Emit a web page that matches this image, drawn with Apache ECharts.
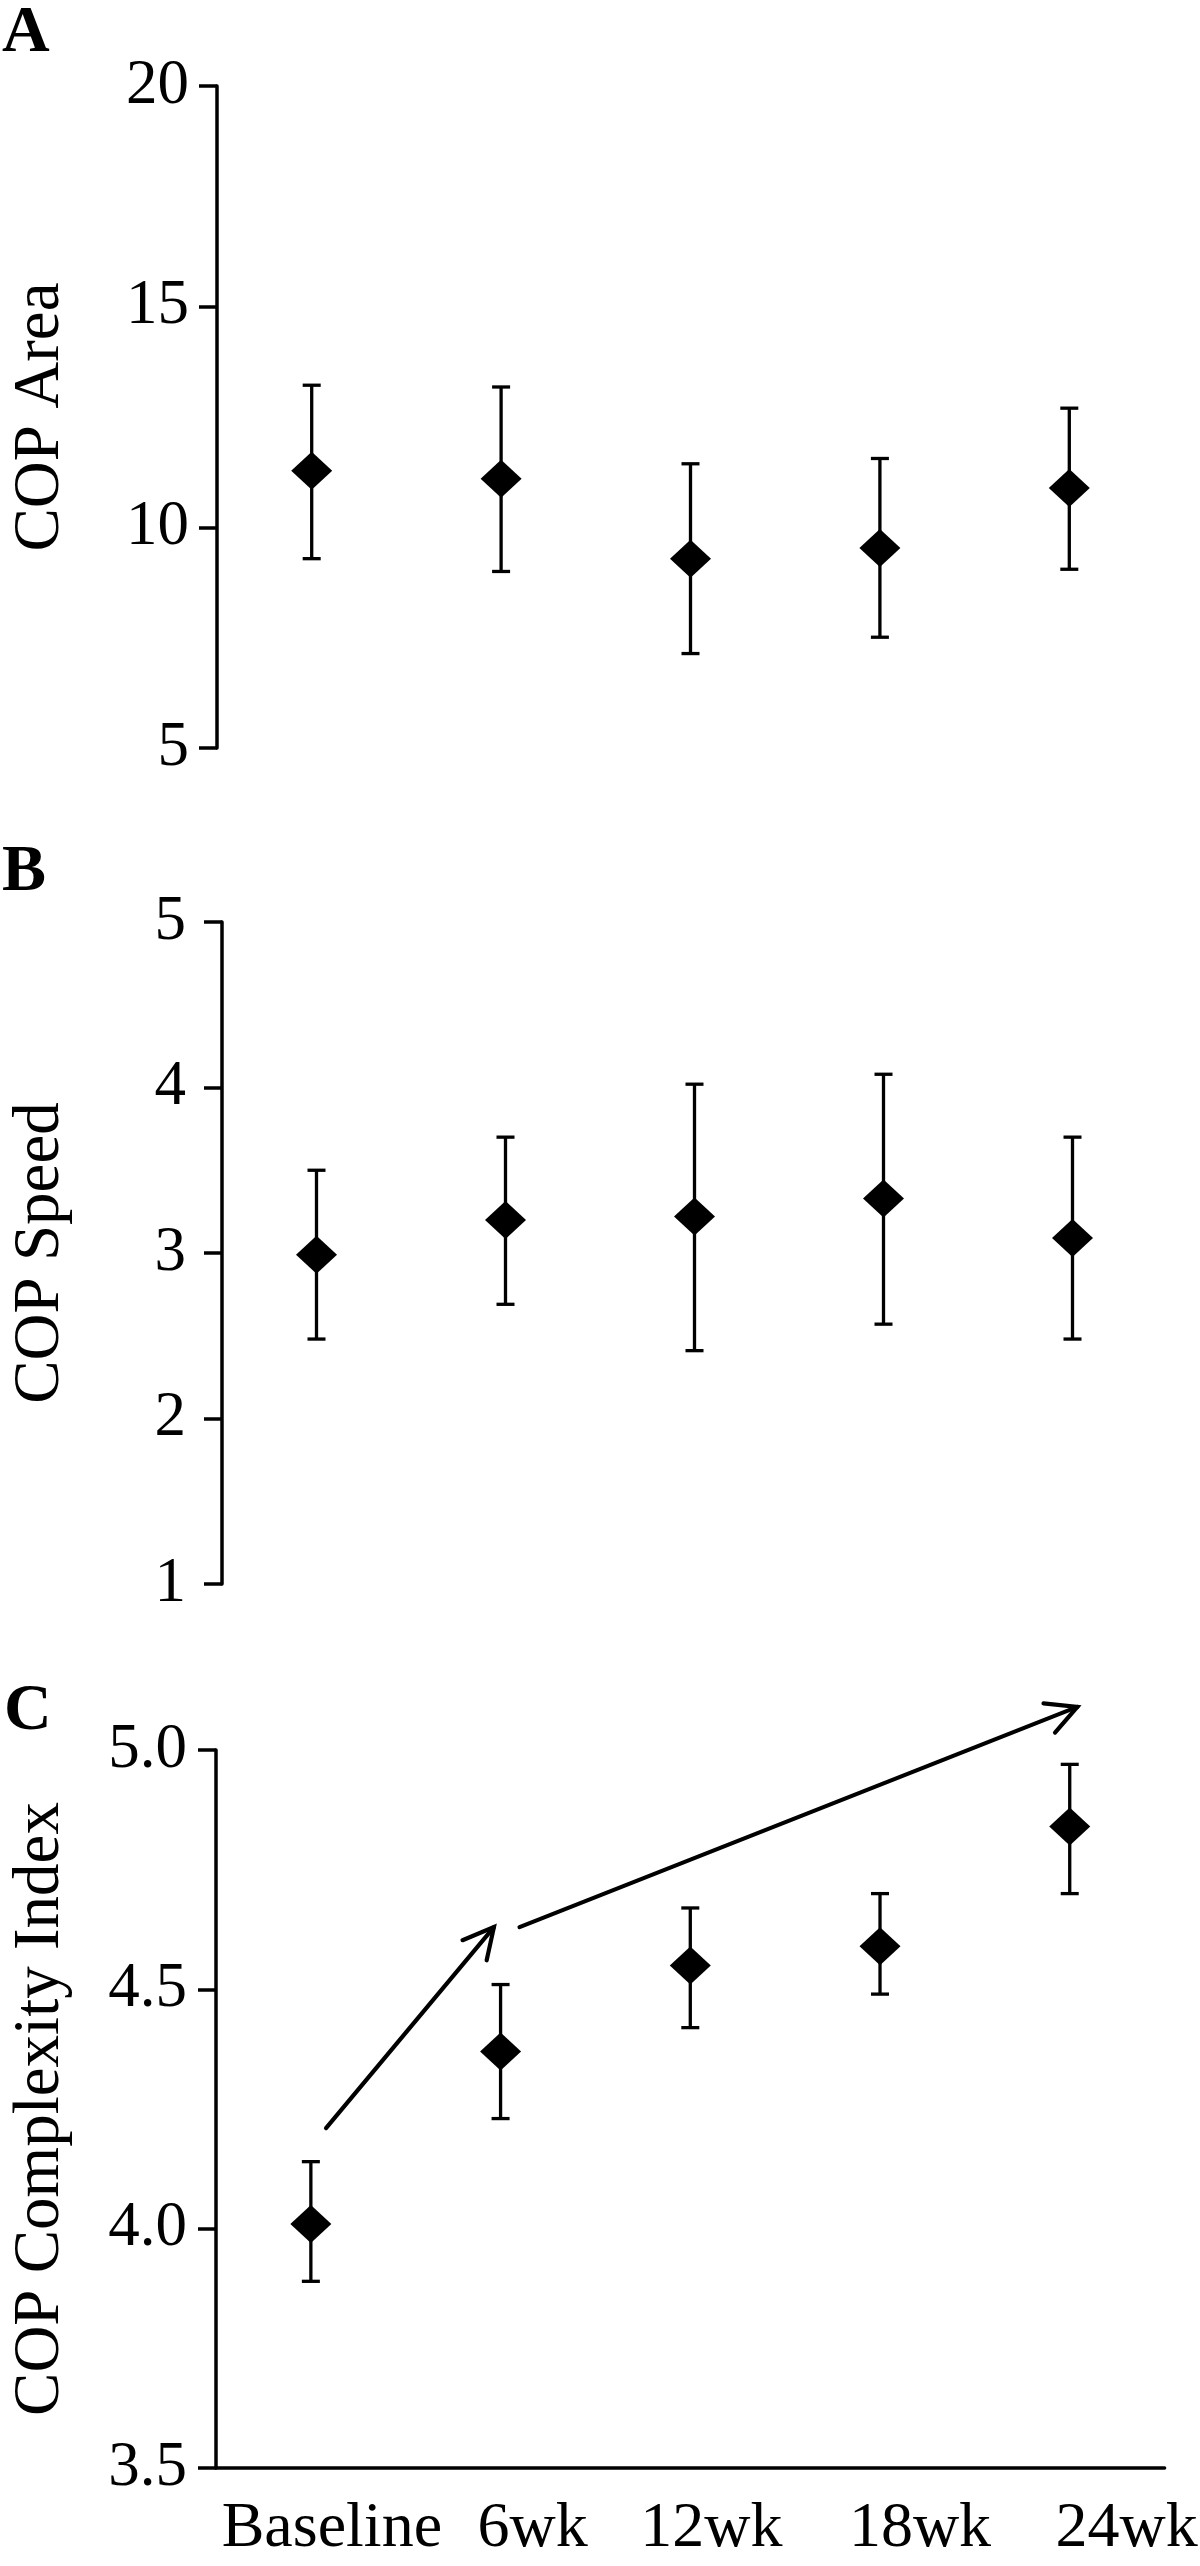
<!DOCTYPE html>
<html><head><meta charset="utf-8">
<script src="https://cdn.jsdelivr.net/npm/echarts@6/dist/echarts.min.js"></script>
<style>html,body{margin:0;padding:0;background:#fff}#chart{width:1200px;height:2566px}</style>
</head><body><div id="chart"></div>
<script>
// ---- data ----
const categories = ['Baseline', '6wk', '12wk', '18wk', '24wk'];

const areaMean = [11.28, 11.10, 9.29, 9.53, 10.89];
const areaLow  = [9.29, 9.00, 7.14, 7.51, 9.05];
const areaHigh = [13.22, 13.18, 11.44, 11.56, 12.70];

const speedMean = [2.99, 3.20, 3.22, 3.33, 3.09];
const speedLow  = [2.48, 2.69, 2.41, 2.57, 2.48];
const speedHigh = [3.50, 3.70, 4.02, 4.08, 3.70];

const complexMean = [4.01, 4.37, 4.55, 4.59, 4.84];
const complexLow  = [3.89, 4.23, 4.42, 4.49, 4.70];
const complexHigh = [4.14, 4.51, 4.67, 4.70, 4.97];

// trend arrows in panel C: [xStart, yStart, xEnd, yEnd] (x in category-index units)
const trendArrows = [[0.08, 4.21, 0.965, 4.63], [1.10, 4.63, 4.04, 5.09]];

const areaTicks = [5, 10, 15, 20];
const speedTicks = [1, 2, 3, 4, 5];
const complexTicks = [3.5, 4.0, 4.5, 5.0];

const panelLetters = ['A', 'B', 'C'];
const yNames = ['COP Area', 'COP Speed', 'COP Complexity Index'];

// ---- chart ----
const FONT = '"Liberation Serif", "Times New Roman", serif';
const chart = echarts.init(document.getElementById('chart'));

function errData(lo, hi) { return lo.map((v, i) => [i, v, hi[i]]); }
function ptData(m) { return m.map((v, i) => [i, v]); }

function errRender(params, api) {
  const x = api.value(0), lo = api.value(1), hi = api.value(2);
  const pLo = api.coord([x, lo]), pHi = api.coord([x, hi]);
  const w = 9;
  const st = { stroke: '#000', lineWidth: 3.3 };
  return { type: 'group', children: [
    { type: 'line', shape: { x1: pLo[0], y1: pLo[1], x2: pHi[0], y2: pHi[1] }, style: st },
    { type: 'line', shape: { x1: pLo[0] - w, y1: pLo[1], x2: pLo[0] + w, y2: pLo[1] }, style: st },
    { type: 'line', shape: { x1: pHi[0] - w, y1: pHi[1], x2: pHi[0] + w, y2: pHi[1] }, style: st }
  ]};
}

function arrowRender(params, api) {
  const p1 = api.coord([api.value(0), api.value(1)]);
  const p2 = api.coord([api.value(2), api.value(3)]);
  const ang = Math.atan2(p2[1] - p1[1], p2[0] - p1[0]);
  const L = 34, a = 27.5 * Math.PI / 180;
  const h1 = [p2[0] - L * Math.cos(ang - a), p2[1] - L * Math.sin(ang - a)];
  const h2 = [p2[0] - L * Math.cos(ang + a), p2[1] - L * Math.sin(ang + a)];
  const st = { stroke: '#000', lineWidth: 4.2, fill: null, lineCap: 'round', lineJoin: 'miter' };
  return { type: 'group', children: [
    { type: 'line', shape: { x1: p1[0], y1: p1[1], x2: p2[0], y2: p2[1] }, style: st },
    { type: 'polyline', shape: { points: [h1, p2, h2] }, style: st }
  ]};
}

function yAxis(gridIndex, ticks, name, gap, margin, fmt) {
  return {
    type: 'value', gridIndex,
    min: ticks[0], max: ticks[ticks.length - 1], interval: ticks[1] - ticks[0],
    name, nameLocation: 'middle', nameGap: gap,
    nameTextStyle: { fontFamily: FONT, fontSize: 65, color: '#000' },
    axisLine: { show: true, onZero: false, lineStyle: { color: '#000', width: 3.5 } },
    axisTick: { show: true, length: 18, lineStyle: { color: '#000', width: 3.5 } },
    axisLabel: { fontFamily: FONT, fontSize: 63, color: '#000', margin, formatter: fmt },
    splitLine: { show: false }
  };
}

const labelShift = [21, 32, 21, 40, 57];
const richStyles = {};
labelShift.forEach((s, i) => {
  richStyles['l' + i] = { fontFamily: FONT, fontSize: 64, color: '#000', padding: [0, 0, 0, 2 * s] };
});

const option = {
  animation: false,
  backgroundColor: '#fff',
  graphic: panelLetters.map((t, i) => ({
    type: 'text', x: [2, 2, 4][i], y: [34, 873, 1712][i],
    style: { text: t, font: 'bold 66px ' + FONT, fill: '#000', verticalAlign: 'middle', align: 'left' }
  })),
  grid: [
    { left: 210, right: 36, top: 86, height: 662 },
    { left: 216, right: 33, top: 922, height: 662 },
    { left: 209, right: 34, top: 1750, height: 718 }
  ],
  xAxis: [
    { type: 'category', gridIndex: 0, data: categories, show: false },
    { type: 'category', gridIndex: 1, data: categories, show: false },
    { type: 'category', gridIndex: 2, data: categories,
      axisLine: { show: true, onZero: false, lineStyle: { color: '#000', width: 3.5 } },
      axisTick: { show: false },
      axisLabel: { interval: 0, margin: 29, fontFamily: FONT, fontSize: 64, color: '#000',
        formatter: (v, i) => '{l' + i + '|' + v + '}', rich: richStyles } },
    { type: 'value', gridIndex: 2, min: -0.5, max: 4.5, show: false }
  ],
  yAxis: [
    yAxis(0, areaTicks, yNames[0], 144, 28),
    yAxis(1, speedTicks, yNames[1], 149, 36),
    yAxis(2, complexTicks, yNames[2], 143, 29, v => v.toFixed(1))
  ],
  series: [
    { type: 'custom', xAxisIndex: 0, yAxisIndex: 0, renderItem: errRender, data: errData(areaLow, areaHigh), encode: { x: 0, y: [1, 2] }, z: 2 },
    { type: 'scatter', xAxisIndex: 0, yAxisIndex: 0, data: ptData(areaMean), symbol: 'diamond', symbolSize: [41, 38], itemStyle: { color: '#000', opacity: 1 }, z: 3 },
    { type: 'custom', xAxisIndex: 1, yAxisIndex: 1, renderItem: errRender, data: errData(speedLow, speedHigh), encode: { x: 0, y: [1, 2] }, z: 2 },
    { type: 'scatter', xAxisIndex: 1, yAxisIndex: 1, data: ptData(speedMean), symbol: 'diamond', symbolSize: [41, 38], itemStyle: { color: '#000', opacity: 1 }, z: 3 },
    { type: 'custom', xAxisIndex: 2, yAxisIndex: 2, renderItem: errRender, data: errData(complexLow, complexHigh), encode: { x: 0, y: [1, 2] }, z: 2 },
    { type: 'scatter', xAxisIndex: 2, yAxisIndex: 2, data: ptData(complexMean), symbol: 'diamond', symbolSize: [41, 38], itemStyle: { color: '#000', opacity: 1 }, z: 3 },
    { type: 'custom', xAxisIndex: 3, yAxisIndex: 2, renderItem: arrowRender, data: trendArrows, encode: { x: [0, 2], y: [1, 3] }, clip: false, z: 4 }
  ]
};
chart.setOption(option);
</script>
</body></html>
